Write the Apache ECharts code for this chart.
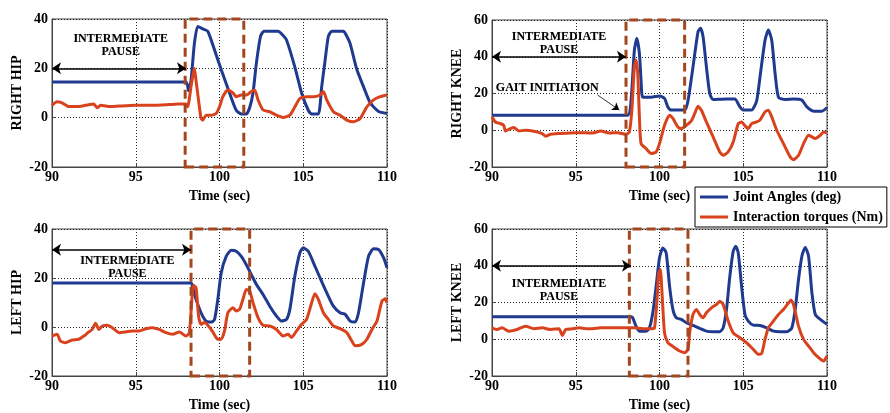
<!DOCTYPE html>
<html>
<head>
<meta charset="utf-8">
<script src="https://cdn.jsdelivr.net/npm/echarts@6/dist/echarts.min.js"></script>
<style>
  html, body { margin: 0; padding: 0; background: #fff; }
  #chart { width: 890px; height: 413px; }
</style>
</head>
<body>
<div id="chart"></div>
<script>
// time axis ticks
const timeTicks = [90, 95, 100, 105, 110];

// [time (sec), value] pairs
const rightHipAngle = [[90,14.5],[98,14.5],[98.15,11],[98.3,15],[98.5,30],[98.7,37],[99.0,36],[99.3,35],[99.7,27.5],[100.1,19.5],[100.6,10],[101.0,3],[101.3,1.5],[101.6,1.5],[101.8,4],[102.0,10],[102.2,22],[102.45,33],[102.65,35],[103.5,35],[103.7,34],[104.0,31.5],[104.5,20.5],[104.9,10],[105.3,3],[105.5,1.5],[105.9,1.5],[106.1,12.5],[106.3,23],[106.5,33],[106.7,35],[107.4,35],[107.6,33],[107.8,30],[108.2,19.5],[108.6,12.5],[109.0,6],[109.5,2.5],[110,1.7]];
const rightHipTorque = [[90,5],[90.3,6.5],[90.6,6],[91,4.5],[91.5,4.5],[92,5],[92.5,5.5],[92.7,4],[92.9,5],[93.5,4.5],[94,4.7],[95,5],[96,5],[97,5.3],[97.5,5.5],[98,5.5],[98.1,4.4],[98.3,12.6],[98.4,16.7],[98.5,20],[98.6,15],[98.75,7],[98.9,-0.3],[99.0,-1],[99.2,1],[99.5,1],[99.8,1.7],[100.0,4.4],[100.2,8.5],[100.5,11.2],[100.8,10],[101.0,8.5],[101.3,9.2],[101.6,9.2],[101.9,10.6],[102.1,11.2],[102.3,7.2],[102.6,3.1],[103,2.4],[103.4,1],[103.8,0.1],[104.2,1],[104.5,4.4],[104.8,7.8],[105.2,8.5],[105.6,8.5],[106,9.2],[106.2,10.6],[106.4,7.2],[106.8,2.4],[107.2,1],[107.6,-1],[108,-1.7],[108.4,-0.3],[108.8,4.4],[109.2,7.2],[109.6,8.5],[110,9.2]];

const rightKneeAngle = [[90,8.2],[98.1,8.2],[98.3,16],[98.5,43.6],[98.65,50],[98.8,41.8],[98.9,27],[99.0,18],[99.5,18],[100,18.7],[100.3,17.3],[100.5,12.7],[100.7,11],[101.5,11],[101.7,16],[102,34.5],[102.3,53.6],[102.45,55.5],[102.6,51],[102.8,34.5],[103,20],[103.2,16.7],[104,17],[104.5,17],[104.8,12.7],[105,11],[105.5,11],[105.8,16],[106,29],[106.3,49],[106.5,54.5],[106.7,49],[106.9,31],[107.1,18],[107.5,16.7],[108,17],[108.5,16.4],[108.8,12.7],[109.2,10.4],[109.7,10.4],[110,12.4]];
const rightKneeTorque = [[90,7.3],[90.2,4.5],[90.5,3.6],[90.7,2.7],[90.8,-0.4],[91.1,0.9],[91.3,1.5],[91.6,-0.4],[92,0],[92.5,-0.5],[93,-1.8],[93.2,-3.3],[93.5,-2.2],[94,-1.8],[95,-1.3],[96,-1.5],[96.5,-0.4],[97,-1.5],[97.5,-1.3],[98,-2.2],[98.2,-0.9],[98.35,10.9],[98.5,34.5],[98.6,38.2],[98.7,31],[98.8,7.3],[98.9,-7.3],[99.2,-10],[99.5,-12.7],[99.8,-11.8],[100,-7.3],[100.3,2.7],[100.6,8.2],[100.8,6.4],[101.1,1.8],[101.3,0.9],[101.6,2.7],[101.9,5.1],[102.1,9],[102.3,13],[102.5,10.9],[102.8,4.5],[103.2,-3.6],[103.6,-11.8],[103.8,-13.6],[104.1,-11.8],[104.4,-6.4],[104.7,3.6],[104.9,4.5],[105.1,2.4],[105.3,0.9],[105.5,3.6],[105.8,4.5],[106,5.5],[106.3,10],[106.5,10.9],[106.7,7.3],[107,0],[107.4,-7.3],[107.8,-14.5],[108,-16],[108.3,-13.6],[108.6,-7.3],[108.9,-2.7],[109.1,-3.6],[109.3,-4.5],[109.6,-2.7],[109.8,-0.9],[110,-1.5]];

const leftHipAngle = [[90,18],[98.3,18],[98.4,16.4],[98.6,11.3],[98.9,5.8],[99.2,2.4],[99.5,2],[99.7,3],[99.9,11.3],[100.1,22],[100.4,28.8],[100.7,31.3],[101,30.9],[101.3,28.8],[101.6,25.4],[101.9,21.4],[102.2,17.4],[102.6,13.3],[103,8.5],[103.4,4.5],[103.7,2.4],[104,3.1],[104.2,7.2],[104.5,20.8],[104.8,30.3],[105,32.3],[105.3,30.9],[105.7,24.8],[106,20.1],[106.4,14],[106.8,8.5],[107.2,5.8],[107.5,5.2],[107.8,2.4],[108.1,2],[108.3,5.8],[108.6,18],[108.9,28.9],[109.2,31.9],[109.5,31.6],[109.8,28.2],[110,24.2]];
const leftHipTorque = [[90,-3.7],[90.3,-3],[90.5,-5.7],[90.8,-6.4],[91.2,-5.3],[91.6,-5],[91.9,-3.7],[92.2,-2],[92.4,-1],[92.6,1.5],[92.8,-1],[93,0.4],[93.3,0.7],[93.6,-0.3],[94,-2.3],[94.4,-2],[94.8,-1.6],[95.2,-1.6],[95.6,-0.7],[96,-0.3],[96.4,-1],[96.8,-2.3],[97.2,-3],[97.6,-2],[98,-3.7],[98.2,-2.3],[98.35,11.3],[98.45,17],[98.6,16],[98.75,4.5],[98.9,1.1],[99.1,1.8],[99.3,0.7],[99.6,-2],[99.9,-5],[100.1,-5],[100.3,-1.6],[100.5,5.8],[100.8,7.9],[101,6.5],[101.2,7.2],[101.4,11.3],[101.6,15.3],[101.8,14.7],[102,9.9],[102.3,3.8],[102.6,0.7],[103,0.4],[103.4,-1],[103.8,-3.7],[104.1,-3],[104.3,-4.3],[104.6,-1.6],[104.9,1.1],[105.2,3.1],[105.5,9.9],[105.7,13.6],[105.9,11.3],[106.2,5.8],[106.5,3.1],[106.8,0.4],[107.2,-0.7],[107.6,-2.3],[107.9,-5.7],[108.1,-7.7],[108.5,-7.1],[108.8,-5],[109.1,-1],[109.4,2.4],[109.7,10.6],[109.9,11.5],[110,9.9]];

const leftKneeAngle = [[90,12.2],[98.3,12.2],[98.4,11.7],[98.6,7.1],[98.8,4.4],[99.2,4.4],[99.4,6.2],[99.6,14.4],[99.8,28.9],[100,44.3],[100.2,49.7],[100.4,47],[100.6,28.9],[100.8,16.2],[101,11.7],[101.3,10.8],[101.6,9],[102,7.5],[102.4,5.9],[102.8,4.4],[103.2,4.1],[103.6,4.1],[103.8,6.2],[104,16.2],[104.2,34.3],[104.4,47.9],[104.55,50.6],[104.7,47],[104.9,28.9],[105.1,13.5],[105.3,9.9],[105.6,7.7],[106,7.5],[106.4,6.2],[106.8,4.4],[107.2,4.1],[107.6,4.1],[107.9,6.2],[108.1,16.2],[108.3,32.5],[108.5,45.2],[108.7,50],[108.9,45.2],[109.1,25.2],[109.3,13.5],[109.6,10.8],[110,8.1]];
const leftKneeTorque = [[90,6.2],[90.3,5.3],[90.6,6.2],[91,4.4],[91.5,5.3],[92,7.1],[92.5,5.7],[93,6.2],[93.5,5.3],[94,5.7],[94.2,2.1],[94.4,5.3],[94.8,5.7],[95.2,6.2],[95.6,5.7],[96,5.7],[96.5,6.2],[97,6.2],[97.5,6.2],[98,6.2],[98.5,6.2],[99,5.7],[99.5,5.7],[99.7,6.2],[99.85,21.6],[99.95,36],[100.05,37.9],[100.15,25.2],[100.3,3.5],[100.5,-1.9],[100.7,-3.3],[100.9,-4.6],[101.2,-6.4],[101.5,-7.3],[101.7,-5.5],[101.8,3.5],[102,13.5],[102.2,16.2],[102.4,13.5],[102.6,11.7],[102.8,14.4],[103.1,17.1],[103.4,18.9],[103.6,20.7],[103.8,18.9],[104.1,9.9],[104.4,3.5],[104.8,0.8],[105.2,-1.9],[105.6,-5.5],[105.9,-8.2],[106.1,-7.7],[106.3,-0.1],[106.5,6.2],[106.8,9.9],[107.1,13.5],[107.4,16.2],[107.7,19.8],[107.85,21.3],[108,18.9],[108.3,7.1],[108.6,-0.1],[108.9,-3.7],[109.2,-7.3],[109.5,-10],[109.8,-11.9],[110,-9.1]];

// panel settings: name, y range, highlighted window, pause arrow, note text position
const panelNames = ['RIGHT HIP', 'RIGHT KNEE', 'LEFT HIP', 'LEFT KNEE'];
const yRanges = [[-20, 40], [-20, 60], [-20, 40], [-20, 60]];
const boxWindows = [[97.95, 101.45], [98.0, 101.5], [98.3, 101.8], [98.2, 101.7]];
const pauseArrows = [[90, 98, 20], [90, 98, 40], [90, 98.3, 31.5], [90, 98.3, 40]];
const pauseNotes = [[94.1, 29.3], [94.0, 47.5], [94.5, 24.5], [94.0, 26.6]];
const angleSeries = [rightHipAngle, rightKneeAngle, leftHipAngle, leftKneeAngle];
const torqueSeries = [rightHipTorque, rightKneeTorque, leftHipTorque, leftKneeTorque];

const FONT = "'Liberation Serif', 'Times New Roman', serif";
const BLUE = '#1f3a8f';
const RED = '#d8431e';
const BOX = '#a4471f';

const grids = [
  { left: 52, top: 19, width: 335, height: 148 },
  { left: 492, top: 20, width: 335, height: 147 },
  { left: 52, top: 229, width: 335, height: 148 },
  { left: 492, top: 229, width: 335, height: 148 }
];

const xAxes = [], yAxes = [], series = [];

panelNames.forEach((name, i) => {
  xAxes.push({
    type: 'value', gridIndex: i, min: timeTicks[0], max: timeTicks[timeTicks.length - 1], interval: 5,
    name: 'Time (sec)', nameLocation: 'middle', nameGap: 22,
    nameTextStyle: { fontFamily: FONT, fontWeight: 'bold', fontSize: 14, color: '#000' },
    axisLine: { show: true, onZero: false, lineStyle: { color: '#444', width: 1 } },
    axisTick: { show: true, inside: true, length: 4, lineStyle: { color: '#444' } },
    axisLabel: { fontFamily: FONT, fontWeight: 'bold', fontSize: 14, color: '#000', margin: 3 },
    splitLine: { show: true, lineStyle: { color: '#222', width: 1, type: [1, 2] } }
  });
  yAxes.push({
    type: 'value', gridIndex: i, min: yRanges[i][0], max: yRanges[i][1], interval: 20,
    name: name, nameLocation: 'middle', nameGap: 28, nameRotate: 90,
    nameTextStyle: { fontFamily: FONT, fontWeight: 'bold', fontSize: 14, color: '#000' },
    axisLine: { show: true, onZero: false, lineStyle: { color: '#444', width: 1 } },
    axisTick: { show: true, inside: true, length: 4, lineStyle: { color: '#444' } },
    axisLabel: { fontFamily: FONT, fontWeight: 'bold', fontSize: 14, color: '#000', margin: 4 },
    splitLine: { show: true, lineStyle: { color: '#222', width: 1, type: [1, 2] } }
  });

  const marks = [
    [{ coord: [pauseArrows[i][0], pauseArrows[i][2]] }, { coord: [pauseArrows[i][1], pauseArrows[i][2]] }]
  ];
  if (i === 1) {
    // small pointer for the gait initiation note
    marks.push([
      { coord: [96.3, 19.2], symbol: 'none' },
      { coord: [97.6, 11], symbol: 'arrow', symbolSize: 7, lineStyle: { width: 0.8 } }
    ]);
  }
  const notes = [{
    coord: pauseNotes[i],
    label: { formatter: 'INTERMEDIATE\nPAUSE' }
  }];
  if (i === 1) {
    notes.push({ coord: [93.3, 23], label: { formatter: 'GAIT INITIATION', lineHeight: 14 } });
  }

  series.push({
    name: 'Joint Angles (deg)', type: 'line', xAxisIndex: i, yAxisIndex: i,
    data: angleSeries[i], showSymbol: false, symbol: 'none', smooth: 0.2,
    lineStyle: { color: BLUE, width: 3 }, itemStyle: { color: BLUE }, z: 3,
    markLine: {
      silent: true, symbol: ['arrow', 'arrow'], symbolSize: 9,
      label: { show: false },
      lineStyle: { color: '#000', width: 1.5, type: 'solid' },
      data: marks
    },
    markPoint: {
      silent: true, symbol: 'circle', symbolSize: 0,
      label: {
        show: true, position: 'inside', fontFamily: FONT, fontWeight: 'bold',
        fontSize: 12, lineHeight: 13, color: '#000',
        textShadowColor: 'rgba(0,0,0,0.25)', textShadowBlur: 1
      },
      data: notes
    }
  });
  series.push({
    name: 'Interaction torques (Nm)', type: 'line', xAxisIndex: i, yAxisIndex: i,
    data: torqueSeries[i], showSymbol: false, symbol: 'none', smooth: 0.2,
    lineStyle: { color: RED, width: 3 }, itemStyle: { color: RED }, z: 3,
    markArea: {
      silent: true,
      itemStyle: { color: 'rgba(0,0,0,0)', borderColor: BOX, borderWidth: 3, borderType: [9, 5] },
      data: [[{ xAxis: boxWindows[i][0], yAxis: yRanges[i][0] }, { xAxis: boxWindows[i][1], yAxis: yRanges[i][1] }]],
      z: 5
    }
  });
});

const option = {
  animation: false,
  backgroundColor: '#fff',
  grid: grids.map(g => Object.assign({ show: true, borderColor: '#444', borderWidth: 1, backgroundColor: 'transparent' }, g)),
  xAxis: xAxes,
  yAxis: yAxes,
  legend: {
    data: ['Joint Angles (deg)', 'Interaction torques (Nm)'],
    orient: 'vertical', left: 695, top: 187,
    backgroundColor: '#fff', borderColor: '#000', borderWidth: 1,
    padding: [3, 4, 3, 5], itemGap: 6,
    icon: 'rect', itemWidth: 28, itemHeight: 3,
    textStyle: { fontFamily: FONT, fontWeight: 'bold', fontSize: 14, color: '#000' }
  },
  series: series
};

const myChart = echarts.init(document.getElementById('chart'));
myChart.setOption(option);
</script>
</body>
</html>
